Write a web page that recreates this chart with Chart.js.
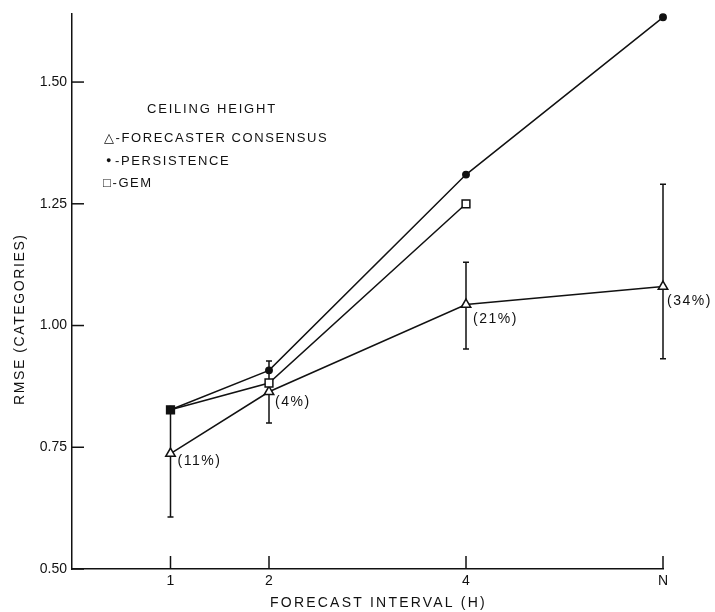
<!DOCTYPE html>
<html>
<head>
<meta charset="utf-8">
<script src="https://cdn.jsdelivr.net/npm/chart.js@4.4.1/dist/chart.umd.min.js"></script>
<style>
  html, body { margin: 0; padding: 0; background: #fff; }
  canvas { display: block; }
</style>
</head>
<body>
<canvas id="c" width="715" height="612"></canvas>
<script>
// ---- data ----
const intervals = [1, 2, 4, 6];            // forecast interval (N plotted at 6)
const xTickLabels = ['1', '2', '4', 'N'];
const yTicks = [0.50, 0.75, 1.00, 1.25, 1.50];
const consensus = [0.737, 0.864, 1.043, 1.080];
const consensusLow = [0.607, 0.800, 0.952, 0.932];
const consensusHigh = [0.830, 0.927, 1.130, 1.290];
const persistence = [0.827, 0.908, 1.310, 1.633];
const gem = [0.827, 0.882, 1.250];
const improvement = ['(11%)', '(4%)', '(21%)', '(34%)'];
const legendTitle = 'CEILING HEIGHT';
const legendLines = ['\u25B3-FORECASTER CONSENSUS', '\u25CF-PERSISTENCE', '\u25A1-GEM'];
const xTitle = 'FORECAST INTERVAL (H)';
const yTitle = 'RMSE (CATEGORIES)';

const FONT = '"Liberation Sans", "DejaVu Sans", sans-serif';
const INK = '#111';

const toXY = (vals) => vals.map((v, i) => ({ x: intervals[i], y: v }));

const decor = {
  id: 'decor',
  beforeDatasetsDraw(chart) {
    const { ctx, scales: { x, y } } = chart;
    ctx.save();
    ctx.strokeStyle = INK;
    ctx.lineWidth = 1.5;
    // inward tick marks
    yTicks.forEach(v => {
      const py = y.getPixelForValue(v);
      ctx.beginPath(); ctx.moveTo(x.left, py); ctx.lineTo(x.left + 12, py); ctx.stroke();
    });
    intervals.forEach(v => {
      const px = x.getPixelForValue(v);
      ctx.beginPath(); ctx.moveTo(px, y.bottom); ctx.lineTo(px, y.bottom - 13); ctx.stroke();
    });
    // error bars
    intervals.forEach((v, i) => {
      const px = x.getPixelForValue(v);
      const top = y.getPixelForValue(consensusHigh[i]);
      const bot = y.getPixelForValue(consensusLow[i]);
      ctx.beginPath();
      ctx.moveTo(px, top); ctx.lineTo(px, bot);
      ctx.moveTo(px - 3, top); ctx.lineTo(px + 3, top);
      ctx.moveTo(px - 3, bot); ctx.lineTo(px + 3, bot);
      ctx.stroke();
    });
    ctx.restore();
  },
  afterDraw(chart) {
    const { ctx, chartArea: ca, scales: { x, y } } = chart;
    ctx.save();
    ctx.fillStyle = INK;
    ctx.textBaseline = 'middle';
    ctx.letterSpacing = '1.5px';
    // improvement labels
    ctx.font = '14px ' + FONT;
    ctx.textAlign = 'left';
    const offs = [[7, 8], [6, 10], [7, 15], [4, 15]];
    intervals.forEach((v, i) => {
      const px = x.getPixelForValue(v);
      const py = y.getPixelForValue(consensus[i]);
      ctx.fillText(improvement[i], px + offs[i][0], py + offs[i][1]);
    });
    // legend block
    ctx.font = '13px ' + FONT;
    ctx.letterSpacing = '1.8px';
    ctx.fillText(legendTitle, ca.left + 75, 109);
    ctx.letterSpacing = '1.6px';
    ctx.fillText(legendLines[0], ca.left + 32, 138);
    ctx.fillText(legendLines[2], ca.left + 31, 183);
    ctx.font = '9px ' + FONT;
    ctx.letterSpacing = '0px';
    ctx.fillText(legendLines[1].charAt(0), ca.left + 34, 161);
    ctx.font = '13px ' + FONT;
    ctx.letterSpacing = '1.6px';
    ctx.fillText(legendLines[1].slice(1), ca.left + 43, 161);
    // axis titles
    ctx.font = '14px ' + FONT;
    ctx.letterSpacing = '2.2px';
    ctx.textAlign = 'center';
    ctx.fillText(xTitle, (ca.left + ca.right) / 2 + 11, 603);
    ctx.save();
    ctx.translate(20, (ca.top + ca.bottom) / 2 + 28);
    ctx.rotate(-Math.PI / 2);
    ctx.letterSpacing = '1.6px';
    ctx.fillText(yTitle, 0, 0);
    ctx.restore();
    ctx.restore();
  }
};

const common = { borderColor: INK, borderWidth: 1.5, tension: 0, showLine: true, clip: false, pointBorderColor: INK, pointBorderWidth: 1.5 };

new Chart(document.getElementById('c'), {
  type: 'line',
  data: {
    datasets: [
      Object.assign({}, common, {
        label: 'Forecaster consensus', data: toXY(consensus),
        pointStyle: 'triangle', pointRadius: 5.5, pointBackgroundColor: '#fff', order: 1
      }),
      Object.assign({}, common, {
        label: 'Persistence', data: toXY(persistence),
        pointStyle: 'circle', pointRadius: 3.2, pointBackgroundColor: INK, order: 2
      }),
      Object.assign({}, common, {
        label: 'GEM', data: toXY(gem),
        pointStyle: 'rect', pointRadius: 5.5,
        pointBackgroundColor: gem.map((v, i) => i === 0 ? INK : '#fff'), order: 0
      })
    ]
  },
  options: {
    responsive: false,
    animation: false,
    layout: { padding: { top: 10, right: 52, left: 0, bottom: 0 } },
    plugins: { legend: { display: false }, tooltip: { enabled: false } },
    scales: {
      x: {
        type: 'linear', min: 0, max: 6,
        afterFit: s => { s.height = 43; },
        afterBuildTicks: s => { s.ticks = intervals.map(v => ({ value: v })); },
        ticks: {
          autoSkip: false, maxRotation: 0, padding: 4, color: INK,
          font: { family: FONT, size: 14 },
          callback: (v) => xTickLabels[intervals.indexOf(v)]
        },
        grid: { display: false, drawTicks: false },
        border: { display: true, color: INK, width: 1.5 }
      },
      y: {
        type: 'linear', min: 0.5, max: 1.641,
        afterFit: s => { s.width = 72; },
        afterBuildTicks: s => { s.ticks = yTicks.map(v => ({ value: v })); },
        ticks: {
          autoSkip: false, padding: 5, color: INK,
          font: { family: FONT, size: 14 },
          callback: (v) => v.toFixed(2)
        },
        grid: { display: false, drawTicks: false },
        border: { display: true, color: INK, width: 1.5 }
      }
    }
  },
  plugins: [decor]
});
</script>
</body>
</html>
